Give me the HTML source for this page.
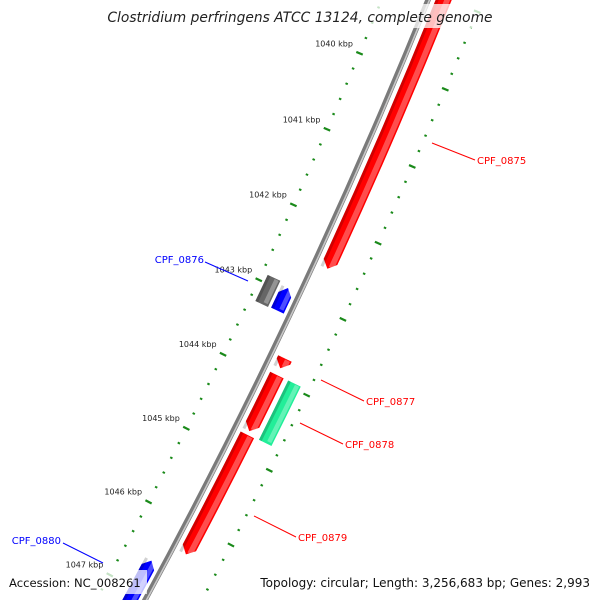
<!DOCTYPE html>
<html><head><meta charset="utf-8">
<style>
html,body{margin:0;padding:0;background:#fff;overflow:hidden;width:600px;height:600px;}
svg{display:block;font-family:"DejaVu Sans","Liberation Sans",sans-serif;}
</style></head>
<body>
<svg id="map" width="600" height="600" viewBox="0 0 600 600" xmlns="http://www.w3.org/2000/svg">
<g id="ticks"></g>
<g id="backbone"></g>
<g id="features"></g>
<g id="labels"></g>
<rect x="104" y="4" width="392" height="24" fill="#fff" fill-opacity="0.75"/>
<text x="300" y="22" text-anchor="middle" font-style="italic" font-size="13.8" fill="#222">Clostridium perfringens ATCC 13124, complete genome</text>
<rect x="5" y="570" width="142" height="24" fill="#fff" fill-opacity="0.75"/>
<text x="9" y="587" font-size="11.6" fill="#111">Accession: NC_008261</text>
<rect x="258" y="570" width="337" height="24" fill="#fff" fill-opacity="0.75"/>
<text x="590" y="587" text-anchor="end" font-size="12" fill="#111">Topology: circular; Length: 3,256,683 bp; Genes: 2,993</text>
</svg>
<script>
const tickKbp=[1039,1040,1041,1042,1043,1044,1045,1046,1047,1048];
const featNames=["CPF_0875","CPF_0876b","CPF_0876","CPF_0877","CPF_0877b","CPF_0878","CPF_0879","CPF_0880"];
const featStart=[1037.5,1042.90,1042.94,1043.72,1043.94,1043.94,1044.74,1046.61];
const featEnd=[1042.53,1043.25,1043.24,1043.85,1044.69,1044.73,1046.35,1048.5];
const featStrand=[1,0,-1,1,1,0,1,-1];
const labelNames=["CPF_0875","CPF_0876","CPF_0877","CPF_0878","CPF_0879","CPF_0880"];

const NS="http://www.w3.org/2000/svg";
const cx=-5077.5, cy=-2230, R=5940;
function ang(k){return (22.78+(k-1040)*0.803)*Math.PI/180;}
function pt(r,k){const a=ang(k);return [cx+r*Math.cos(a),cy+r*Math.sin(a)];}
function mk(tag,attrs,parent){const e=document.createElementNS(NS,tag);for(const k in attrs)e.setAttribute(k,attrs[k]);parent.appendChild(e);return e;}
const T=document.getElementById('ticks'),B=document.getElementById('backbone'),F=document.getElementById('features'),L=document.getElementById('labels');

function arcD(r,k1,k2){const p=pt(r,k1),q=pt(r,k2);return `M${p[0]},${p[1]} A${r},${r} 0 0 1 ${q[0]},${q[1]}`;}
let bb=mk('path',{d:arcD(R,1037,1049),fill:'none',stroke:'#7a7a7a','stroke-width':5.5},B);


let bb2=mk('path',{d:arcD(R+1.3,1037,1049),fill:'none',stroke:'#c8c8c8','stroke-width':1.6},B);



const rIn=5897,rOut=5990;
function tickLine(r,k,len,w,name){const p=pt(r-len/2,k),q=pt(r+len/2,k);
 const l=mk('line',{x1:p[0],y1:p[1],x2:q[0],y2:q[1],stroke:'#1a8a1a','stroke-width':w},T);
 
 }
const kMin=tickKbp[0],kMax=tickKbp[tickKbp.length-1];
for(let i=0;i<=(kMax-kMin)*5;i++){const k=kMin+i*0.2;
 const major=(i%5===0);
 tickLine(rIn,k,major?7:2.5,major?2.2:2,major?'inner-major-tick':'inner-minor-tick');
 tickLine(rOut,k,major?7:2.5,major?2.2:2,major?'outer-major-tick':'outer-minor-tick');}
tickKbp.forEach(k=>{const p=pt(rIn-5,k);
 const t=mk('text',{x:p[0]-2,y:p[1]-5,'text-anchor':'end','font-size':8,fill:'#222'},T);
 t.textContent=k+' kbp';
 
 });

const ring={1:[5947,5962],0:[5967,5981],'-1':[5920,5934]};
const colors={CPF_0875:'#ff0000',CPF_0877:'#ff0000',CPF_0877b:'#ff0000',CPF_0879:'#ff0000',CPF_0876:'#0000ff',CPF_0880:'#0000ff',CPF_0876b:'#666666',CPF_0878:'#22ee99'};
function featPath(k1,k2,r1,r2,dir){const ah=0.09;const rm=(r1+r2)/2;
 if(dir===1){const e=k2-ah;const a=pt(r2,k1),b=pt(r2,e),tip=pt(rm,k2),c=pt(r1,e),d=pt(r1,k1);
  return `M${a} A${r2},${r2} 0 0 1 ${b} L${tip} L${c} A${r1},${r1} 0 0 0 ${d}Z`;}
 if(dir===-1){const s=k1+ah;const tip=pt(rm,k1),a=pt(r2,s),b=pt(r2,k2),c=pt(r1,k2),d=pt(r1,s);
  return `M${tip} L${a} A${r2},${r2} 0 0 1 ${b} L${c} A${r1},${r1} 0 0 0 ${d}Z`;}
 const a=pt(r2,k1),b=pt(r2,k2),c=pt(r1,k2),d=pt(r1,k1);
 return `M${a} A${r2},${r2} 0 0 1 ${b} L${c} A${r1},${r1} 0 0 0 ${d}Z`;}
featNames.forEach((n,i)=>{let r=ring[featStrand[i]];if(n==='CPF_0876b')r=[5903,5917];
 const col=colors[n];
 const p=mk('path',{d:featPath(featStart[i],featEnd[i],r[0],r[1],featStrand[i]),fill:col},F);
 
 
 const h=mk('path',{d:featPath(featStart[i]+0.01,featEnd[i]-0.03,r[0]+8,r[1]-1.5,0),fill:'#fff','fill-opacity':0.3},F);
 
 
 const s=mk('path',{d:featPath(featStart[i],featEnd[i],r[0],r[0]+3,0),fill:'#000','fill-opacity':0.18},F);
 
 });

const lab=[{x:477,y:164,lx1:432,ly1:143,lx2:475,ly2:160,c:'#ff0000',a:'start'},
 {x:204,y:263,lx1:205,ly1:262,lx2:248,ly2:281,c:'#0000ff',a:'end'},
 {x:366,y:405,lx1:321,ly1:380,lx2:364,ly2:401,c:'#ff0000',a:'start'},
 {x:345,y:448,lx1:300,ly1:423,lx2:343,ly2:444,c:'#ff0000',a:'start'},
 {x:298,y:541,lx1:254,ly1:516,lx2:296,ly2:537,c:'#ff0000',a:'start'},
 {x:61,y:544,lx1:63,ly1:543,lx2:103,ly2:563,c:'#0000ff',a:'end'}];
labelNames.forEach((n,i)=>{const o=lab[i];
 const l=mk('line',{x1:o.lx1,y1:o.ly1,x2:o.lx2,y2:o.ly2,stroke:o.c,'stroke-width':1},L);
 
 
 const t=mk('text',{x:o.x,y:o.y,'text-anchor':o.a,'font-size':10,fill:o.c},L);
 t.textContent=n;
 
 });
</script>
</body></html>
